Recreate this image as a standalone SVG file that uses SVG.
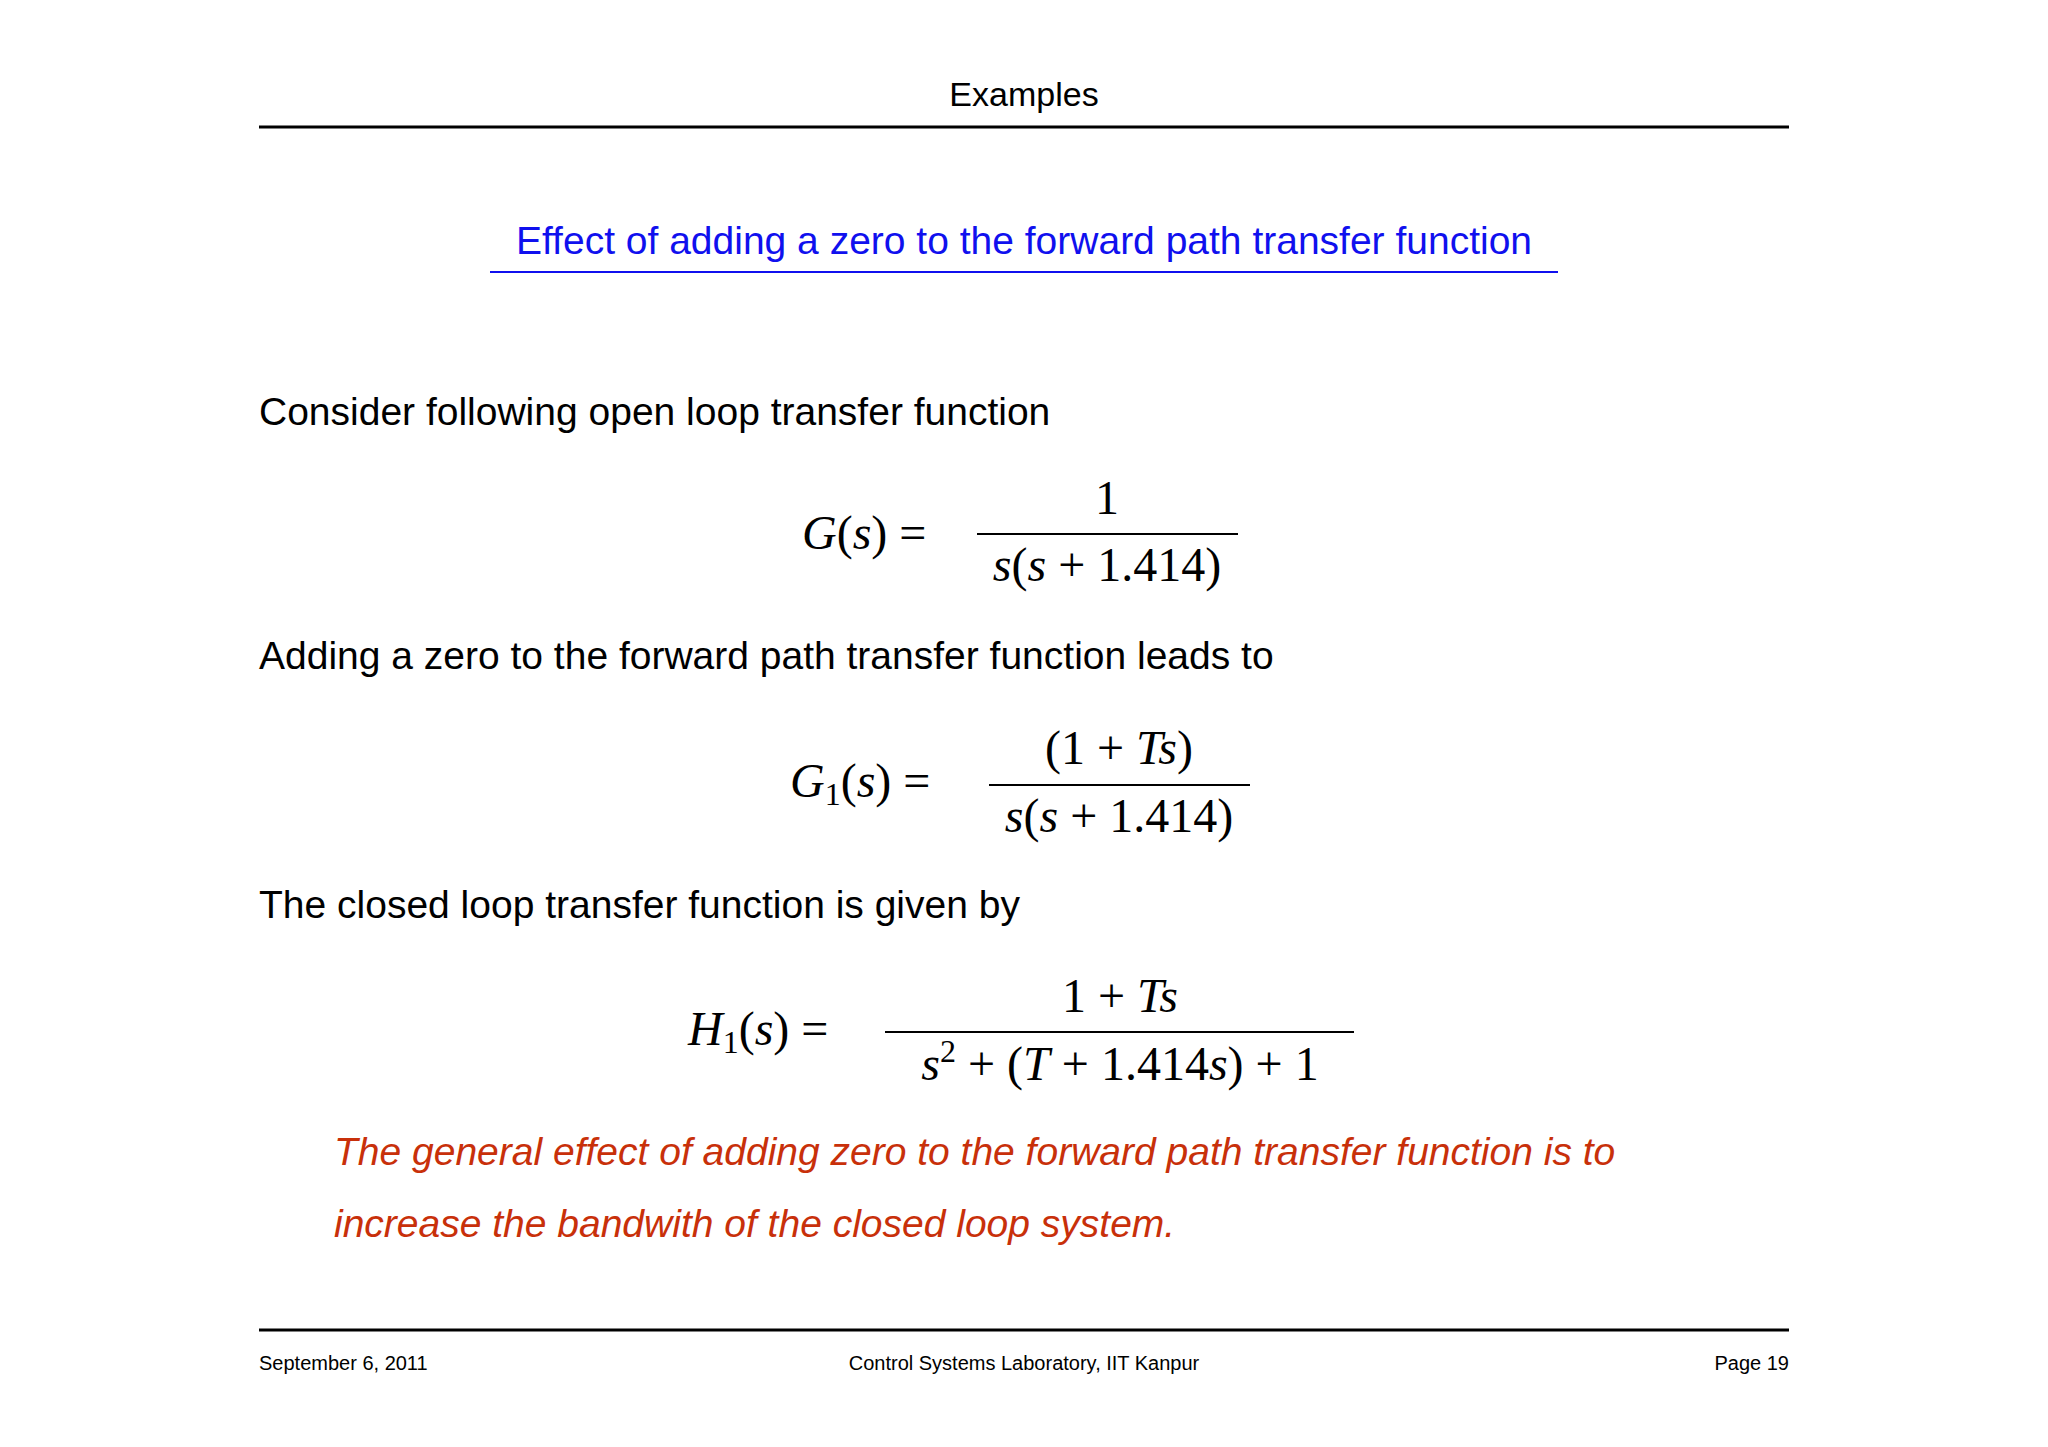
<svg xmlns="http://www.w3.org/2000/svg" width="2048" height="1447" viewBox="0 0 2048 1447">
<style>
.s{font-family:"Liberation Sans",Arial,sans-serif;fill:#000}
.m{font-family:"Liberation Serif","Times New Roman",serif;font-size:48px;fill:#000}
.i{font-style:italic}
.sub{font-size:32px}
</style>
<rect width="2048" height="1447" fill="#fff"/>
<g id="header">
<text class="s" x="1024" y="106" font-size="34" text-anchor="middle">Examples</text>
<line x1="259" y1="127" x2="1789" y2="127" stroke="#000" stroke-width="3"/>
</g>
<g id="title">
<text x="1024" y="254" font-family="Liberation Sans,Arial,sans-serif" font-size="39" fill="#1010ee" text-anchor="middle">Effect of adding a zero to the forward path transfer function</text>
<line x1="490" y1="272" x2="1558" y2="272" stroke="#1010ee" stroke-width="2"/>
</g>
<g id="body">
<text class="s" x="259" y="425" font-size="39">Consider following open loop transfer function</text>
<text class="s" x="259" y="669" font-size="39">Adding a zero to the forward path transfer function leads to</text>
<text class="s" x="259" y="918" font-size="39">The closed loop transfer function is given by</text>
</g>
<g id="eq1">
<text class="m" x="802" y="549"><tspan class="i">G</tspan>(<tspan class="i">s</tspan>) =</text>
<text class="m" x="1107" y="514" text-anchor="middle">1</text>
<line x1="977" y1="534" x2="1238" y2="534" stroke="#000" stroke-width="2"/>
<text class="m" x="1107" y="581" text-anchor="middle"><tspan class="i">s</tspan>(<tspan class="i">s</tspan> + 1.414)</text>
</g>
<g id="eq2">
<text class="m" x="790" y="797"><tspan class="i">G</tspan><tspan class="sub" dy="8">1</tspan><tspan dy="-8">(</tspan><tspan class="i">s</tspan>) =</text>
<text class="m" x="1119" y="764" text-anchor="middle">(1 + <tspan class="i">Ts</tspan>)</text>
<line x1="989" y1="785" x2="1250" y2="785" stroke="#000" stroke-width="2"/>
<text class="m" x="1119" y="832" text-anchor="middle"><tspan class="i">s</tspan>(<tspan class="i">s</tspan> + 1.414)</text>
</g>
<g id="eq3">
<text class="m" x="688" y="1045"><tspan class="i">H</tspan><tspan class="sub" dy="8">1</tspan><tspan dy="-8">(</tspan><tspan class="i">s</tspan>) =</text>
<text class="m" x="1120" y="1012" text-anchor="middle">1 + <tspan class="i">Ts</tspan></text>
<line x1="885" y1="1032" x2="1354" y2="1032" stroke="#000" stroke-width="2"/>
<text class="m" x="1120" y="1080" text-anchor="middle"><tspan class="i">s</tspan><tspan class="sub" dy="-18">2</tspan><tspan dy="18"> + (</tspan><tspan class="i">T</tspan> + 1.414<tspan class="i">s</tspan>) + 1</text>
</g>
<g id="note">
<text x="334" y="1165" font-family="Liberation Sans,Arial,sans-serif" font-size="39" font-style="italic" fill="#c8300a">The general effect of adding zero to the forward path transfer function is to</text>
<text x="334" y="1237" font-family="Liberation Sans,Arial,sans-serif" font-size="39" font-style="italic" fill="#c8300a">increase the bandwith of the closed loop system.</text>
</g>
<g id="footer">
<line x1="259" y1="1330" x2="1789" y2="1330" stroke="#000" stroke-width="3"/>
<text class="s" x="259" y="1370" font-size="20">September 6, 2011</text>
<text class="s" x="1024" y="1370" font-size="20" text-anchor="middle">Control Systems Laboratory, IIT Kanpur</text>
<text class="s" x="1789" y="1370" font-size="20" text-anchor="end">Page 19</text>
</g>
</svg>
